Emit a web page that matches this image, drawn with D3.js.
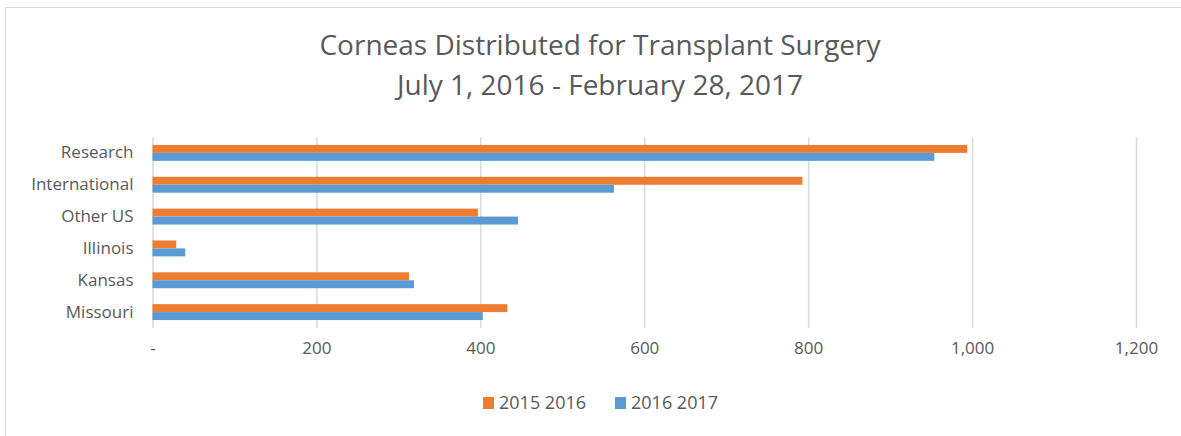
<!DOCTYPE html>
<html>
<head>
<meta charset="utf-8">
<script src="https://cdnjs.cloudflare.com/ajax/libs/d3/7.8.5/d3.min.js"></script>
<style>
  body { margin: 0; background: #fff; }
  svg text { font-family: "Open Sans", sans-serif; fill: #595959; }
</style>
</head>
<body>
<svg width="1181" height="436"></svg>
<script>
// data
const categories = ['Research', 'International', 'Other US', 'Illinois', 'Kansas', 'Missouri'];
const seriesNames = ['2015 2016', '2016 2017'];
const values2015 = [994, 793, 397, 29, 313, 433];
const values2016 = [954, 563, 446, 40, 319, 403];
const xTicks = [0, 200, 400, 600, 800, 1000, 1200];
const colors = ['#ED7D31', '#5B9BD5'];

const svg = d3.select('svg');
const width = +svg.attr('width');
const height = +svg.attr('height');

// chart frame: only top and left edges are inside the window
svg.append('path')
    .attr('d', `M5.5,${height}V7.5H${width}`)
    .attr('fill', 'none')
    .attr('stroke', '#d9d9d9');

const margin = {top: 137, left: 152.5};
const innerWidth = 1136 - margin.left;
const innerHeight = 328 - margin.top;

const rows = categories.map((c, i) => ({category: c, vals: [values2015[i], values2016[i]]}));

const xScale = d3.scaleLinear().domain([0, 1200]).range([0, innerWidth]);
const yScale = d3.scaleBand().domain(categories).range([0, innerHeight])
    .paddingInner(0.5).paddingOuter(0.25);
const ySub = d3.scaleBand().domain([0, 1]).range([0, yScale.bandwidth()]);

const g = svg.append('g').attr('transform', `translate(${margin.left},${margin.top})`);

// x axis with gridlines
const xAxis = d3.axisBottom(xScale)
    .tickValues(xTicks)
    .tickSize(-innerHeight)
    .tickPadding(14)
    .tickFormat(d => d === 0 ? '-' : d3.format(',')(d));
const xAxisG = g.append('g').attr('transform', `translate(0,${innerHeight})`).call(xAxis);
xAxisG.select('.domain').remove();
xAxisG.selectAll('line').attr('stroke', '#d9d9d9').attr('stroke-width', 1.5);
xAxisG.selectAll('text').attr('font-size', 17).attr('fill', '#595959');

// y axis labels
const yAxisG = g.append('g').call(d3.axisLeft(yScale).tickSize(0).tickPadding(19));
yAxisG.select('.domain').remove();
yAxisG.selectAll('text').attr('font-size', 17).attr('fill', '#595959');

// bars
const groups = g.selectAll('.cat').data(rows).enter().append('g')
    .attr('transform', d => `translate(0,${yScale(d.category)})`);
groups.selectAll('rect').data(d => d.vals).enter().append('rect')
    .attr('x', 0)
    .attr('y', (d, i) => ySub(i))
    .attr('width', d => xScale(d))
    .attr('height', ySub.bandwidth())
    .attr('fill', (d, i) => colors[i]);

// title
svg.append('text').attr('x', 600).attr('y', 55).attr('text-anchor', 'middle')
    .attr('font-size', 28).text('Corneas Distributed for Transplant Surgery');
svg.append('text').attr('x', 600).attr('y', 95).attr('text-anchor', 'middle')
    .attr('font-size', 28).text('July 1, 2016 - February 28, 2017');

// legend
const legend = svg.append('g').attr('transform', 'translate(483,397)');
const legendX = [0, 132];
seriesNames.forEach((name, i) => {
    const lg = legend.append('g').attr('transform', `translate(${legendX[i]},0)`);
    lg.append('rect').attr('width', 11).attr('height', 12).attr('fill', colors[i]);
    lg.append('text').attr('x', 16).attr('y', 12).attr('font-size', 18).text(name);
});
</script>
</body>
</html>
